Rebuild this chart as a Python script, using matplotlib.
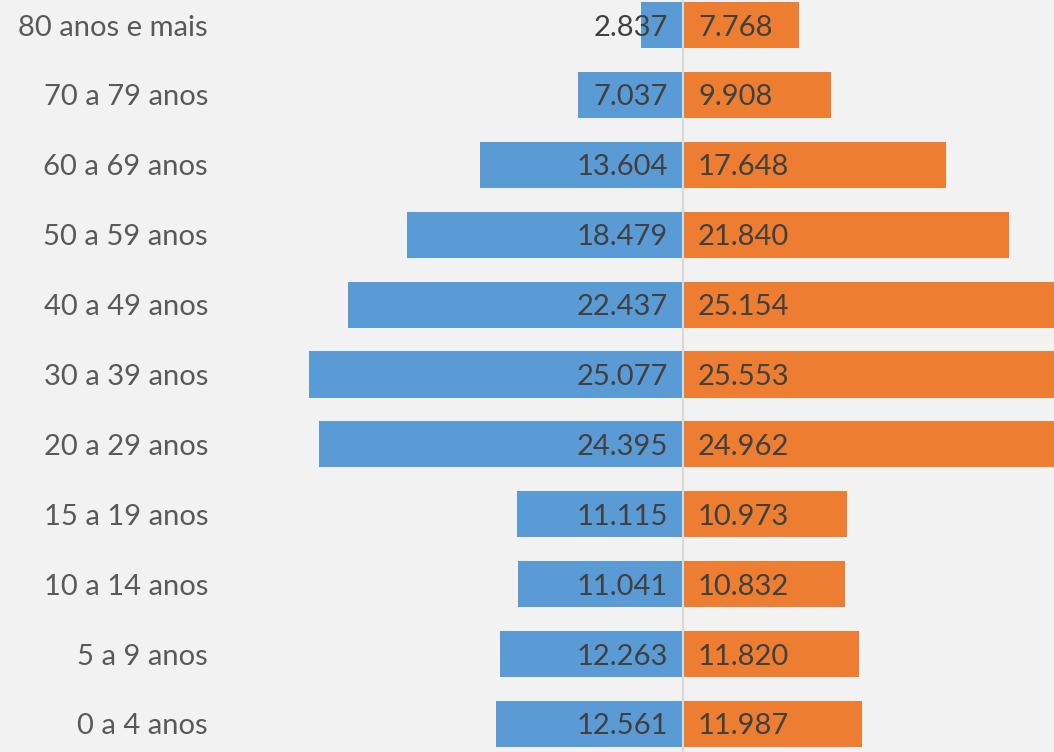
import matplotlib
matplotlib.use("Agg")
import matplotlib.pyplot as plt

categories = ["0 a 4 anos", "5 a 9 anos", "10 a 14 anos", "15 a 19 anos", "20 a 29 anos",
              "30 a 39 anos", "40 a 49 anos", "50 a 59 anos", "60 a 69 anos", "70 a 79 anos",
              "80 anos e mais"]
homens = [12.561, 12.263, 11.041, 11.115, 24.395, 25.077, 22.437, 18.479, 13.604, 7.037, 2.837]
mulheres = [11.987, 11.820, 10.832, 10.973, 24.962, 25.553, 25.154, 21.840, 17.648, 9.908, 7.768]

def fmt(v):
    return f"{v:.3f}"

plt.rcParams['font.family'] = ['Lato', 'DejaVu Sans']
W, H = 1054, 752
fig = plt.figure(figsize=(W/100, H/100), dpi=100)
fig.patch.set_facecolor("#F2F2F2")

ax_left_px = 215
center_px = 683
ppu = 14.91
ax = fig.add_axes([ax_left_px/W, 0, 1 - ax_left_px/W, 1])
ax.set_facecolor("#F2F2F2")
ax.set_xlim(-(center_px - ax_left_px)/ppu, (W - center_px)/ppu)
ax.set_ylim(-(752-724)/69.9, 10 + 25/69.9)

y = list(range(len(categories)))
ax.barh(y, [-v for v in homens], height=0.66, color="#5B9BD5", zorder=2)
ax.barh(y, mulheres, height=0.66, color="#ED7D31", zorder=2)
ax.axvline(0, color="#D9D9D9", lw=1.5, zorder=3)

fs = 21
off = 15/ppu
for yi, h, m in zip(y, homens, mulheres):
    ax.text(-off, yi, fmt(h), ha="right", va="center_baseline", fontsize=fs, color="#404040", zorder=4)
    ax.text(off, yi, fmt(m), ha="left", va="center_baseline", fontsize=fs, color="#404040", zorder=4)

ax.set_yticks(y)
ax.set_yticklabels(categories, fontsize=fs, color="#595959", va="center_baseline")
ax.tick_params(axis="y", length=0, pad=5)
ax.set_xticks([])
for s in ax.spines.values():
    s.set_visible(False)

fig.savefig("out.png", dpi=100, facecolor=fig.get_facecolor())
